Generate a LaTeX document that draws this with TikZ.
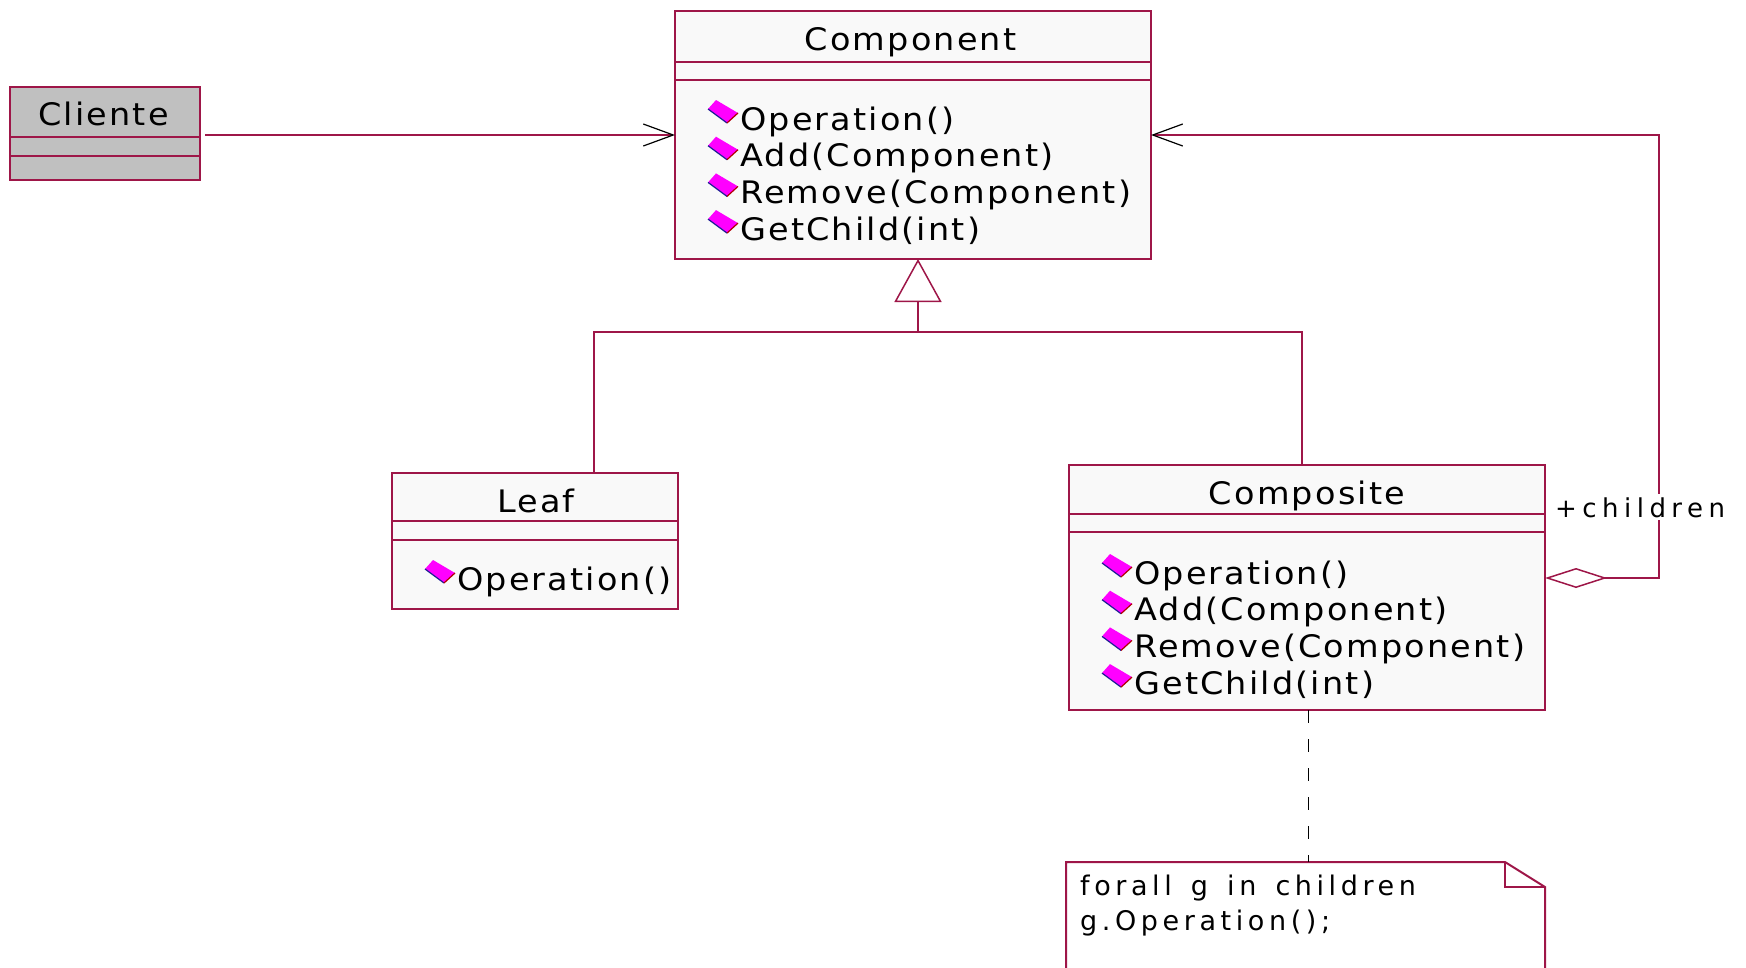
\documentclass[tikz,border=0pt]{standalone}
\usepackage{fontspec}
\newfontfamily\umlfont{DejaVu Sans}[FakeStretch=1.08, LetterSpace=7]
\newfontfamily\notefont{DejaVu Sans}[LetterSpace=17, WordSpace=1.45]
\newfontfamily\rolefont{DejaVu Sans}[LetterSpace=21]
\usetikzlibrary{arrows.meta}
\definecolor{umlred}{RGB}{158,22,72}
\definecolor{boxbg}{RGB}{249,249,249}
\definecolor{clientbg}{RGB}{192,192,192}
\definecolor{iconmag}{RGB}{255,0,255}
\definecolor{iconblue}{RGB}{30,30,150}

\tikzset{
  cls/.style={draw=umlred, line width=2pt, fill=boxbg, inner sep=0pt, outer sep=0pt},
  sep/.style={draw=umlred, line width=2pt},
  rel/.style={draw=umlred, line width=1.8pt},
  ttl/.style={font=\umlfont\fontsize{31}{36}\selectfont, anchor=base, inner sep=0pt},
  mth/.style={font=\umlfont\fontsize{31}{36}\selectfont, anchor=base west, inner sep=0pt},
  notetxt/.style={font=\notefont\fontsize{27}{32}\selectfont, anchor=base west, inner sep=0pt},
  rolelbl/.style={font=\rolefont\fontsize{26}{30}\selectfont, anchor=base west, inner sep=3pt, fill=white},
  barb/.tip={Straight Barb[length=30pt,width=22pt,line width=1.2pt,color=black]},
  meth/.pic={
    \fill[iconmag] (0,0) -- (8,-9) -- (30,4) -- (19,14) -- cycle;
    \draw[iconblue, line width=1.2pt] (0,0) -- (19,14);
    \draw[red!70!black, line width=1.2pt] (19,14) -- (30,4);
  }
}
% icon + operation text on one row: name, icon x, baseline y, text
\newcommand\opRow[4]{%
  \pic at (#2,#3-21) {meth};
  \node[mth] (#1) at (#2+32,#3) {#4};}

\begin{document}
\begin{tikzpicture}[x=1pt,y=-1pt]
\useasboundingbox (0,0) rectangle (1746,967);

% ---------- Cliente ----------
\node[cls, fill=clientbg, minimum width=190pt, minimum height=93pt] (cliente) at (105,133.5) {};
\draw[sep] ([yshift=-50pt]cliente.north west) -- ([yshift=-50pt]cliente.north east);
\draw[sep] ([yshift=-69pt]cliente.north west) -- ([yshift=-69pt]cliente.north east);
\node[ttl] (clienteName) at (103.5,125) {Cliente};

% ---------- Component ----------
\node[cls, minimum width=476pt, minimum height=248pt] (component) at (913,135) {};
\draw[sep] ([yshift=-51pt]component.north west) -- ([yshift=-51pt]component.north east);
\draw[sep] ([yshift=-69pt]component.north west) -- ([yshift=-69pt]component.north east);
\node[ttl] (componentName) at (910.5,50) {Component};
\opRow{cOp}{708}{130}{Operation()}
\opRow{cAdd}{708}{166.7}{Add(Component)}
\opRow{cRem}{708}{203.4}{Remove(Component)}
\opRow{cGet}{708}{240.1}{GetChild(int)}

% ---------- Leaf ----------
\node[cls, minimum width=286pt, minimum height=136pt] (leaf) at (535,541) {};
\draw[sep] ([yshift=-48pt]leaf.north west) -- ([yshift=-48pt]leaf.north east);
\draw[sep] ([yshift=-67pt]leaf.north west) -- ([yshift=-67pt]leaf.north east);
\node[ttl] (leafName) at (536,512) {Leaf};
\opRow{lOp}{425}{590}{Operation()}

% ---------- Composite ----------
\node[cls, minimum width=476pt, minimum height=245pt] (composite) at (1307,587.5) {};
\draw[sep] ([yshift=-49pt]composite.north west) -- ([yshift=-49pt]composite.north east);
\draw[sep] ([yshift=-67pt]composite.north west) -- ([yshift=-67pt]composite.north east);
\node[ttl] (compositeName) at (1307,504) {Composite};
\opRow{pOp}{1102}{584}{Operation()}
\opRow{pAdd}{1102}{620.7}{Add(Component)}
\opRow{pRem}{1102}{657.4}{Remove(Component)}
\opRow{pGet}{1102}{694.1}{GetChild(int)}

% ---------- Note ----------
\coordinate (notetop) at (1308.5,862);
\filldraw[sep, fill=white] (1066,980) -- (1066,862) -- (1505,862) -- (1545,887) -- (1545,980);
\draw[sep, line width=1.5pt] (1505,862) -- (1505,887) -- (1545,887);
\node[notetxt] (note1) at (1080,895) {forall g in children};
\node[notetxt] (note2) at (1080,930) {g.Operation();};

% ---------- Relations ----------
% association Cliente -> Component
\draw[rel, -barb] ([xshift=5pt]cliente.east |- component.west) -- (component.west);

% generalization Leaf, Composite -> Component
\coordinate (gjoin) at (918,332);
\draw[rel] ([xshift=59pt]leaf.north) |- (gjoin);
\draw[rel] ([xshift=-5pt]composite.north) |- (gjoin);
\draw[rel, -{Triangle[length=43pt, width=47pt, line width=1.5pt, fill=white]}] (gjoin) -- ([xshift=5pt]component.south);

% aggregation Composite <>-- children -> Component
\coordinate (aggtop) at (1659,135);
\draw[rel, {Diamond[length=62pt, width=20pt, line width=1.5pt, fill=white]}-barb]
  ([yshift=9.5pt]composite.east) -| (aggtop) -- (component.east);
\node[rolelbl] (children) at (1552,517) {+children};

% note anchor
\draw[black, line width=1.5pt, dash pattern=on 13pt off 16pt] ([xshift=1.5pt]composite.south) -- (notetop);
\end{tikzpicture}
\end{document}
